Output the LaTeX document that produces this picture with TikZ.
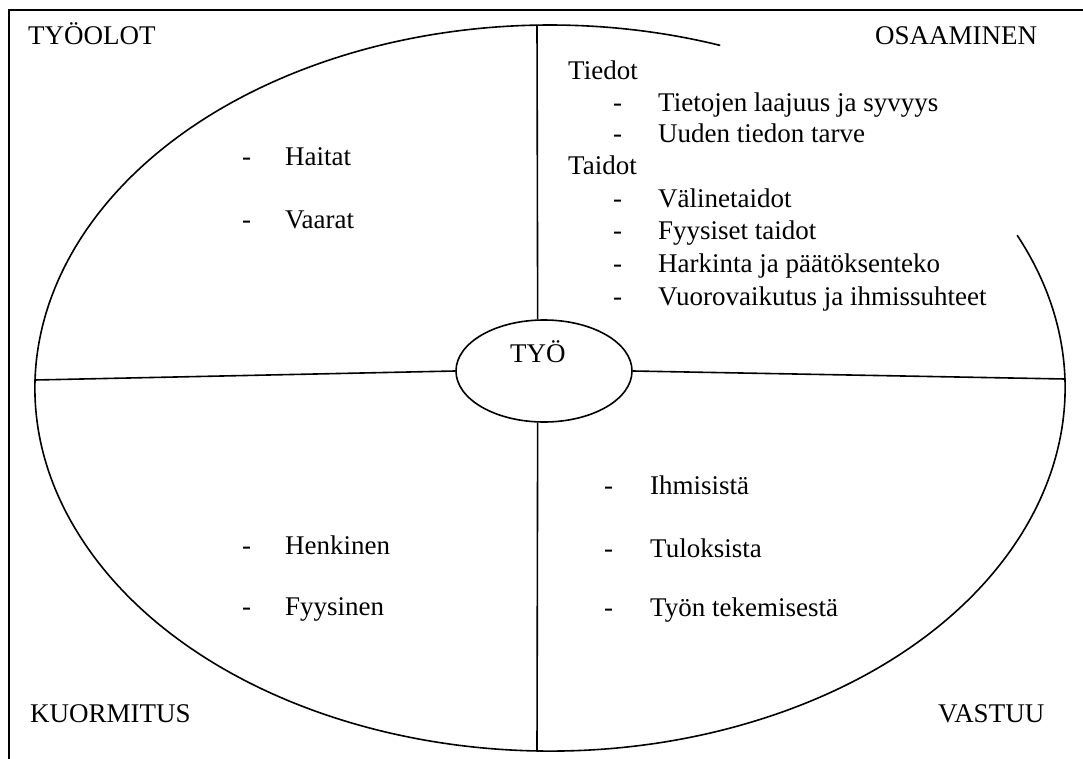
\documentclass[tikz,border=0pt]{standalone}
\usepackage{fontspec}
\setmainfont{Liberation Serif}
\usetikzlibrary{shapes.geometric}
\begin{document}
\begin{tikzpicture}[x=1pt,y=-1pt,
  txt/.style={anchor=base west,inner sep=0pt,font=\fontsize{27}{31}\selectfont},
  ln/.style={line width=1.6pt,black}]
\useasboundingbox (0,0) rectangle (1083,759);
% frame
\draw[ln] (9,759) -- (9,10) -- (1083,10);
% big ellipse with gap behind the text box
\draw[ln] (550,388) ++(-24.9:515 and 363) arc[start angle=-24.9,end angle=289.3,x radius=515,y radius=363];
% central ellipse
\node[ellipse,draw,line width=1.6pt,minimum width=176pt,minimum height=102pt,inner sep=0pt] (TYO) at (544,371) {};
\node[txt] (tyotext) at (510,362) {TYÖ};
% quadrant lines
\coordinate (L) at (35,380);
\coordinate (R) at (1065,379);
\coordinate (T) at (537,25);
\coordinate (B) at (537,751);
\draw[ln] (L) -- (TYO.west);
\draw[ln] (TYO.east) -- (R);
\draw[ln] (T) -- (TYO.97);
\draw[ln] (TYO.263) -- (B);
% corner titles
\node[txt] (tyoolot) at (28,45) {TYÖOLOT};
\node[txt] (osaaminen) at (875,45) {OSAAMINEN};
\node[txt] (kuormitus) at (30,722) {KUORMITUS};
\node[txt] (vastuu) at (938,722) {VASTUU};
% upper left
\node[txt] (d1) at (242,166) {-};
\node[txt] (haitat) at (285,166) {Haitat};
\node[txt] (d2) at (242,229) {-};
\node[txt] (vaarat) at (285,229) {Vaarat};
% upper right
\node[txt] (tiedot) at (568,80) {Tiedot};
\node[txt] (d3) at (613,112) {-};
\node[txt] (t1) at (658,112) {Tietojen laajuus ja syvyys};
\node[txt] (d4) at (613,143) {-};
\node[txt] (t2) at (658,143) {Uuden tiedon tarve};
\node[txt] (taidot) at (568,175) {Taidot};
\node[txt] (d5) at (613,208) {-};
\node[txt] (t3) at (658,208) {Välinetaidot};
\node[txt] (d6) at (613,240) {-};
\node[txt] (t4) at (658,240) {Fyysiset taidot};
\node[txt] (d7) at (613,272) {-};
\node[txt] (t5) at (658,272) {Harkinta ja päätöksenteko};
\node[txt] (d8) at (613,305) {-};
\node[txt] (t6) at (658,305) {Vuorovaikutus ja ihmissuhteet};
% lower left
\node[txt] (d9) at (242,554) {-};
\node[txt] (henkinen) at (285,554) {Henkinen};
\node[txt] (d10) at (242,615) {-};
\node[txt] (fyysinen) at (285,615) {Fyysinen};
% lower right
\node[txt] (d11) at (604,494) {-};
\node[txt] (ihm) at (650,494) {Ihmisistä};
\node[txt] (d12) at (604,557) {-};
\node[txt] (tul) at (650,557) {Tuloksista};
\node[txt] (d13) at (604,616) {-};
\node[txt] (tyon) at (650,616) {Työn tekemisestä};
\end{tikzpicture}
\end{document}
